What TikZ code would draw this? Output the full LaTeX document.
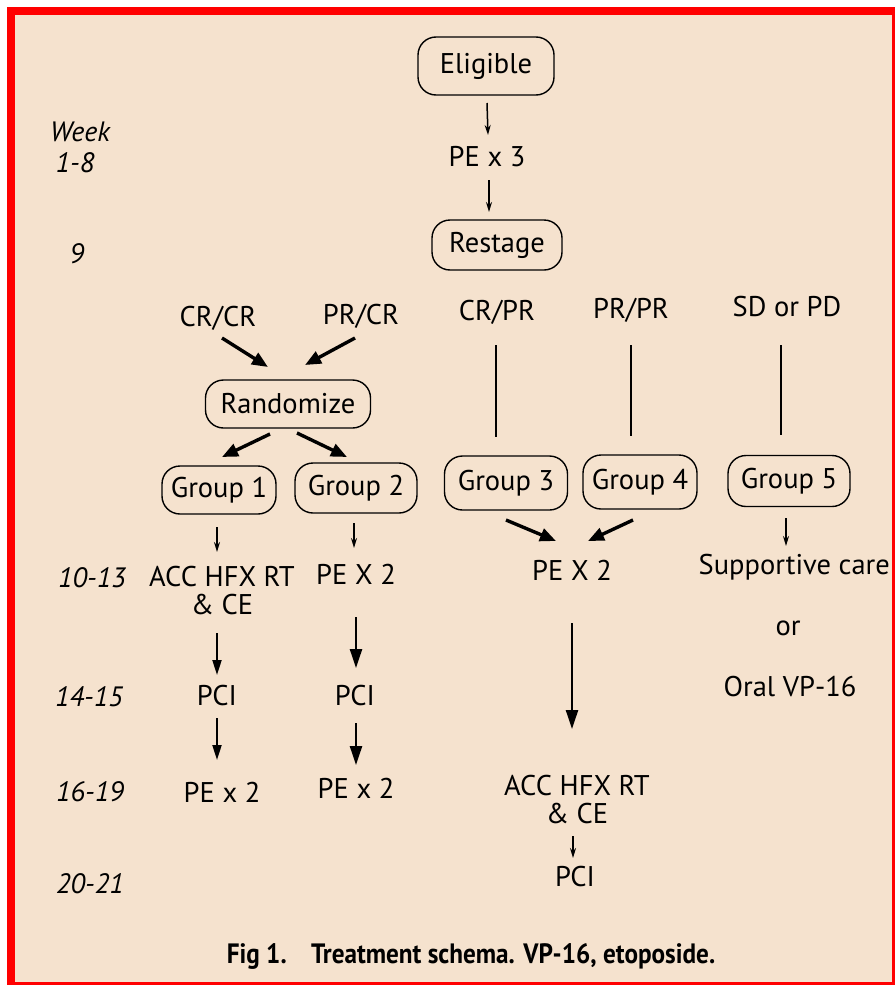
\documentclass[tikz,border=0pt]{standalone}
\usepackage{fontspec}
\setmainfont{PT Sans}
\newfontfamily\capfont[FakeStretch=0.9]{PT Sans Bold}
\usetikzlibrary{arrows.meta,calc}
\definecolor{paper}{HTML}{F5E2CE}
\definecolor{framered}{HTML}{FF0000}
\newcommand{\lbl}{\fontsize{28.5}{32}\selectfont}
\newcommand{\wkfont}{\fontsize{28}{31}\selectfont\itshape}
\begin{document}
\begin{tikzpicture}[x=1pt,y=-1pt,
  stage/.style={draw, line width=1.4pt, rounded corners=18pt, font=\lbl, inner sep=0pt},
  txt/.style={font=\lbl, inner sep=0pt, align=center},
  wk/.style={font=\wkfont, inner sep=0pt},
  smallarr/.style={line width=1.5pt, -{Stealth[length=10pt,width=6pt]}},
  midarr/.style={line width=2pt, -{Triangle[length=15pt,width=9pt]}},
  bigarr/.style={line width=2.4pt, -{Triangle[length=19pt,width=12pt]}},
  diagarr/.style={line width=3.4pt, -{Triangle[length=16pt,width=13pt]}},
  stem/.style={line width=2pt}]
\useasboundingbox (0,0) rectangle (895,985);
% page, frame and paper
\fill[white] (0,0) rectangle (895,985);
\fill[framered] (7,7) rectangle (895,985);
\fill[paper] (15,15) rectangle (892,982);

% week column
\node[wk] (wkhead) at (80,132) {Week};
\node[wk] (wk1) at (75,163) {1-8};
\node[wk] (wk9) at (77,254) {9};
\node[wk] (wk10) at (92,578) {10-13};
\node[wk] (wk14) at (89,697) {14-15};
\node[wk] (wk16) at (90,792) {16-19};
\node[wk] (wk20) at (90,884) {20-21};

% induction
\node[stage, minimum width=136pt, minimum height=58pt] (eligible) at (486,66) {Eligible};
\node[txt] (pe3) at (487,157) {PE x 3};
\node[stage, minimum width=130pt, minimum height=50pt] (restage) at (497,245) {Restage};

% response categories
\node[txt] (crcr) at (218,318) {CR/CR};
\node[txt] (prcr) at (361,316) {PR/CR};
\node[txt] (crpr) at (497,312) {CR/PR};
\node[txt] (prpr) at (631,310) {PR/PR};
\node[txt] (sdpd) at (787,307) {SD or PD};

\node[stage, minimum width=165pt, minimum height=48pt] (rand) at (288,404) {Randomize};

% groups
\node[stage, minimum width=114pt, minimum height=48pt] (g1) at (219,490) {Group 1};
\node[stage, minimum width=122pt, minimum height=50pt] (g2) at (356,488) {Group 2};
\node[stage, minimum width=123pt, minimum height=54pt] (g3) at (506,483) {Group 3};
\node[stage, minimum width=114pt, minimum height=54pt] (g4) at (640,482) {Group 4};
\node[stage, minimum width=122pt, minimum height=51pt] (g5) at (789,481) {Group 5};

% treatment steps
\node[txt] (acc1) at (222,591) {ACC HFX RT\\[-4pt]\& CE};
\node[txt] (pex2b) at (356,574) {PE X 2};
\node[txt] (pex2c) at (572,570) {PE X 2};
\node[txt, anchor=east] (supp) at (890,567) {Supportive care};
\node[txt] (orword) at (788,628) {or};
\node[txt] (oral) at (790,687) {Oral VP-16};

\node[txt] (pci1) at (217,696) {PCI};
\node[txt] (pci2) at (355,696) {PCI};
\node[txt] (pe2a) at (222,792) {PE x 2};
\node[txt] (pe2b) at (356,788) {PE x 2};
\node[txt] (acc2) at (577,800) {ACC HFX RT\\[-4pt]\& CE};
\node[txt] (pci3) at (575,877) {PCI};

% connectors
\draw[smallarr] ($(eligible)+(1,37)$) -- ($(pe3)+(1,-22)$);
\draw[smallarr] ($(pe3)+(2,23)$) -- ($(restage)+(-8,-33)$);

\draw[diagarr] ($(crcr)+(4,20)$) -- ($(rand)+(-20,-37)$);
\draw[diagarr] ($(prcr)+(-6,22)$) -- ($(rand)+(17,-39)$);
\draw[diagarr] ($(rand)+(-18,30)$) -- ($(g1)+(3,-33)$);
\draw[diagarr] ($(rand)+(9,29)$) -- ($(g2)+(-9,-31)$);

\draw[stem] ($(crpr)+(-1,33)$) -- ($(g3)+(-10,-46)$);
\draw[stem] ($(prpr)+(0,35)$) -- ($(g4)+(-9,-46)$);
\draw[stem] ($(sdpd)+(-6,38)$) -- ($(g5)+(-8,-46)$);

\draw[diagarr] ($(g3)+(0,37)$) -- ($(pex2c)+(-16,-29)$);
\draw[diagarr] ($(g4)+(-7,38)$) -- ($(pex2c)+(16,-29)$);
\draw[smallarr] ($(g5)+(-3,37)$) -- ($(supp.east)+(-104,-21)$);

\draw[smallarr] ($(g1)+(-2,37)$) -- ($(acc1)+(-5,-39)$);
\draw[smallarr] ($(g2)+(-2,35)$) -- ($(pex2b)+(-2,-26)$);
\draw[midarr] ($(acc1)+(-5,42)$) -- ($(pci1)+(0,-21)$);
\draw[midarr] ($(pci1)+(0,22)$) -- ($(pe2a)+(-5,-32)$);
\draw[bigarr] ($(pex2b)+(0,43)$) -- ($(pci2)+(1,-28)$);
\draw[bigarr] ($(pci2)+(1,27)$) -- ($(pe2b)+(0,-23)$);
\draw[bigarr] ($(pex2c)+(0,53)$) -- ($(acc2)+(-5,-71)$);
\draw[smallarr] ($(acc2)+(-4,36)$) -- ($(pci3)+(-2,-19)$);

% caption
\node[font=\capfont\fontsize{28}{32}\selectfont, inner sep=0pt] (caption) at (471,956)
  {Fig 1.\hspace{16pt} Treatment schema. VP-16, etoposide.};

% right and bottom edges of the frame
\fill[framered] (892,7) rectangle (895,985);
\fill[framered] (7,982) rectangle (895,985);
\end{tikzpicture}
\end{document}
